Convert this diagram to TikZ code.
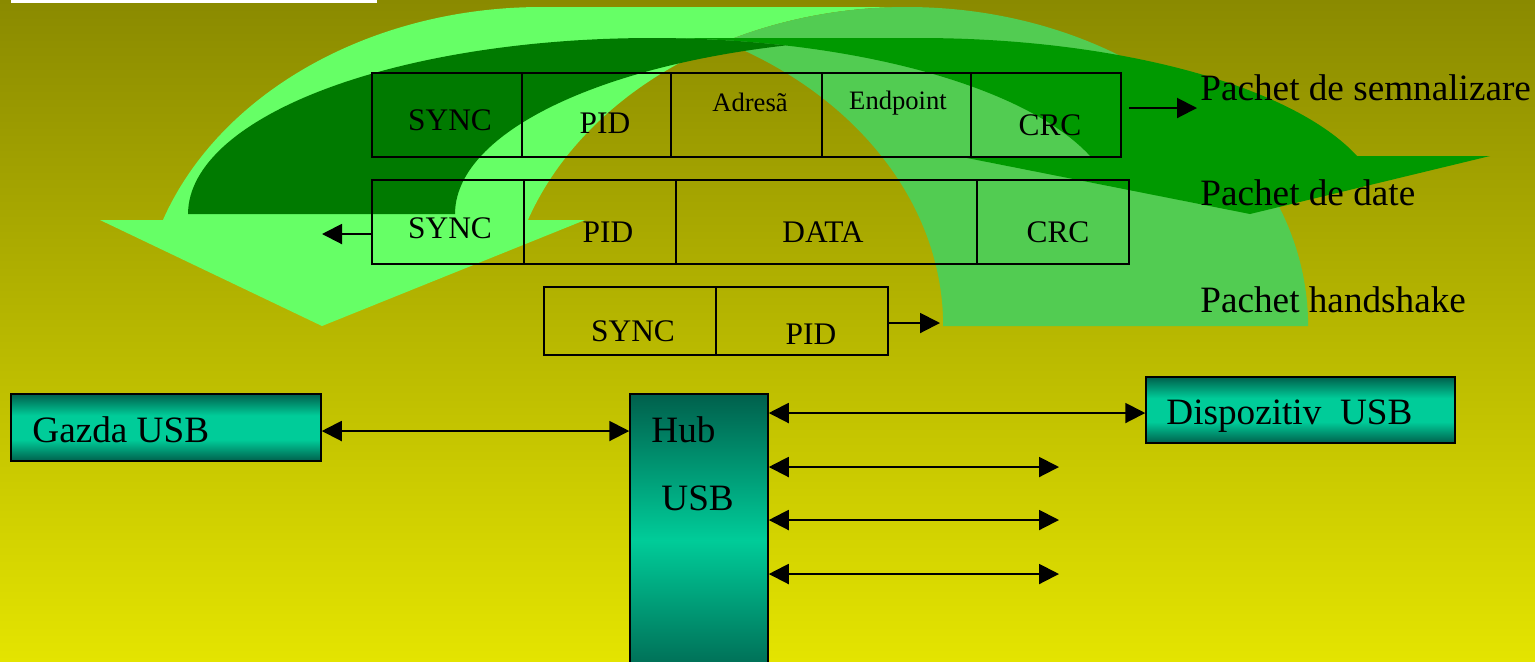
\documentclass[tikz,border=0pt]{standalone}
\usepackage{fontspec}
\setmainfont{Liberation Serif}
\usetikzlibrary{arrows.meta}

\definecolor{olivetop}{RGB}{138,138,0}
\definecolor{olivebot}{RGB}{228,228,0}
\definecolor{leaf}{RGB}{102,255,102}
\definecolor{leafshade}{RGB}{82,204,82}
\definecolor{forest}{RGB}{0,153,0}
\definecolor{forestshade}{RGB}{0,122,0}
\definecolor{tealdark}{RGB}{0,96,76}
\definecolor{tealbright}{RGB}{0,204,153}

% teal band: dark rims, bright core (the box maps onto 25bp..75bp)
\pgfdeclareverticalshading{tealband}{100bp}{%
  color(0bp)=(tealdark); color(25bp)=(tealdark); color(41bp)=(tealbright);
  color(59bp)=(tealbright); color(75bp)=(tealdark); color(100bp)=(tealdark)}

\begin{document}
\begin{tikzpicture}[x=0.5pt, y=-0.5pt,
  >={Triangle[length=10pt, width=10pt]},
  cellbox/.style={draw=black, line width=1pt, inner sep=0pt, minimum height=42pt},
  celltxt/.style={inner sep=0pt, anchor=base, font=\fontsize{15.7}{18}\selectfont},
  fieldtxt/.style={inner sep=0pt, anchor=base, font=\fontsize{13.3}{16}\selectfont},
  pkttxt/.style={inner sep=0pt, anchor=base west, font=\fontsize{18.6}{22}\selectfont},
  unitbox/.style={draw=black, line width=0.75pt, inner sep=0pt},
  unittxt/.style={inner sep=0pt, anchor=base west, font=\fontsize{18.6}{22}\selectfont},
  onearrow/.style={line width=1pt, ->},
  twoarrow/.style={line width=1pt, <->}]

% backdrop
\shade[top color=olivetop, bottom color=olivebot] (0,0) rectangle (1535,661);
\useasboundingbox (0,0) rectangle (1535,661);
\clip (0,0) rectangle (1535,661);
\fill[white] (11,0) rectangle (377,3);

% light-green curved arrow, head pointing down on the left
\fill[leaf] (100,220) -- (322,326) -- (585,220) -- (527.9,220)
  arc[start angle=160.59, end angle=90, x radius=200.75pt, y radius=159.5pt]
  -- (541.6,7)
  arc[start angle=90, end angle=160.59, x radius=200.75pt, y radius=159.5pt]
  -- cycle;
% its shaded back band, foot on the right
\fill[leafshade] (943.1,326) -- (1308.1,326)
  arc[start angle=0, end angle=117.03, x radius=200.75pt, y radius=159.5pt]
  arc[start angle=62.97, end angle=0, x radius=200.75pt, y radius=159.5pt]
  -- cycle;

% dark-green curved arrow, head on the right
\fill[forest] (957,156) -- (1090.1,156)
  arc[start angle=19.24, end angle=90, x radius=232pt, y radius=88pt]
  -- (919,38)
  arc[start angle=90, end angle=19.24, x radius=232pt, y radius=88pt]
  -- (1490,156) -- (1250,214) -- cycle;
% its shaded back band, foot on the left
\fill[forestshade] (188,214) -- (455,214)
  arc[start angle=180, end angle=106.72, x radius=232pt, y radius=88pt]
  arc[start angle=73.28, end angle=180, x radius=232pt, y radius=88pt]
  -- cycle;

% token packet
\node[cellbox, minimum width=75pt]   (sync1) at (447,115) {};
\node[cellbox, minimum width=74.5pt] (pid1)  at (596.5,115) {};
\node[cellbox, minimum width=75.5pt] (adr1)  at (746.5,115) {};
\node[cellbox, minimum width=74.5pt] (endp1) at (896.5,115) {};
\node[cellbox, minimum width=75pt]   (crc1)  at (1046,115) {};
\node[celltxt]  (tsync1) at (450,130) {SYNC};
\node[celltxt]  (tpid1)  at (605,133) {PID};
\node[fieldtxt] (tadr1)  at (750,111) {Adresã};
\node[fieldtxt] (tendp1) at (898,109) {Endpoint};
\node[celltxt]  (tcrc1)  at (1050,135) {CRC};

% data packet
\node[cellbox, minimum width=76pt]    (sync2) at (448,222) {};
\node[cellbox, minimum width=76pt]    (pid2)  at (600,222) {};
\node[cellbox, minimum width=150.5pt] (data2) at (826.5,222) {};
\node[cellbox, minimum width=76pt]    (crc2)  at (1053,222) {};
\node[celltxt] (tsync2) at (450,238) {SYNC};
\node[celltxt] (tpid2)  at (608,242) {PID};
\node[celltxt] (tdata2) at (823,242) {DATA};
\node[celltxt] (tcrc2)  at (1058,242) {CRC};

% handshake packet
\node[cellbox, minimum width=86pt, minimum height=34pt] (sync3) at (630,321) {};
\node[cellbox, minimum width=86pt, minimum height=34pt] (pid3)  at (802,321) {};
\node[celltxt] (tsync3) at (633,341) {SYNC};
\node[celltxt] (tpid3)  at (811,344) {PID};

% packet names
\node[pkttxt] (lbl1) at (1200,100) {Pachet de semnalizare};
\node[pkttxt] (lbl2) at (1200,205) {Pachet de date};
\node[pkttxt] (lbl3) at (1200,312) {Pachet handshake};

% packet arrows
\coordinate (r1s) at ([xshift=3.5pt]crc1.east);
\coordinate (r1) at (1197,108);
\coordinate (r2) at (322,234);
\coordinate (r3) at (940,323);
\draw[onearrow] (r1s |- r1) -- (r1);
\draw[onearrow] (sync2.west |- r2) -- (r2);
\draw[onearrow] (pid3.east |- r3) -- (r3);

% bus topology
\node[unitbox, shade, shading=tealband, minimum width=155pt, minimum height=33.5pt] (gazda) at (166,427.5) {};
\node[unitbox, top color=tealdark, bottom color=tealdark, middle color=tealbright,
      minimum width=69pt, minimum height=146pt] (hub) at (699,540) {};
\node[unitbox, shade, shading=tealband, minimum width=154.5pt, minimum height=33pt] (disp) at (1300.5,410) {};
\node[unittxt] (tgazda) at (32,442) {Gazda USB};
\node[unittxt] (thub1)  at (651,442) {Hub};
\node[unittxt] (thub2)  at (661,510) {USB};
\node[unittxt] (tdisp)  at (1166,424) {Dispozitiv~~USB};

\coordinate (ya) at (0,431);
\coordinate (yb) at (0,413);
\coordinate (p1) at (1059,467);
\coordinate (p2) at (1059,520);
\coordinate (p3) at (1059,574);
\draw[twoarrow] (gazda.east |- ya) -- (hub.west |- ya);
\draw[twoarrow] (hub.east |- yb) -- (disp.west |- yb);
\draw[twoarrow] (hub.east |- p1) -- (p1);
\draw[twoarrow] (hub.east |- p2) -- (p2);
\draw[twoarrow] (hub.east |- p3) -- (p3);
\end{tikzpicture}
\end{document}
